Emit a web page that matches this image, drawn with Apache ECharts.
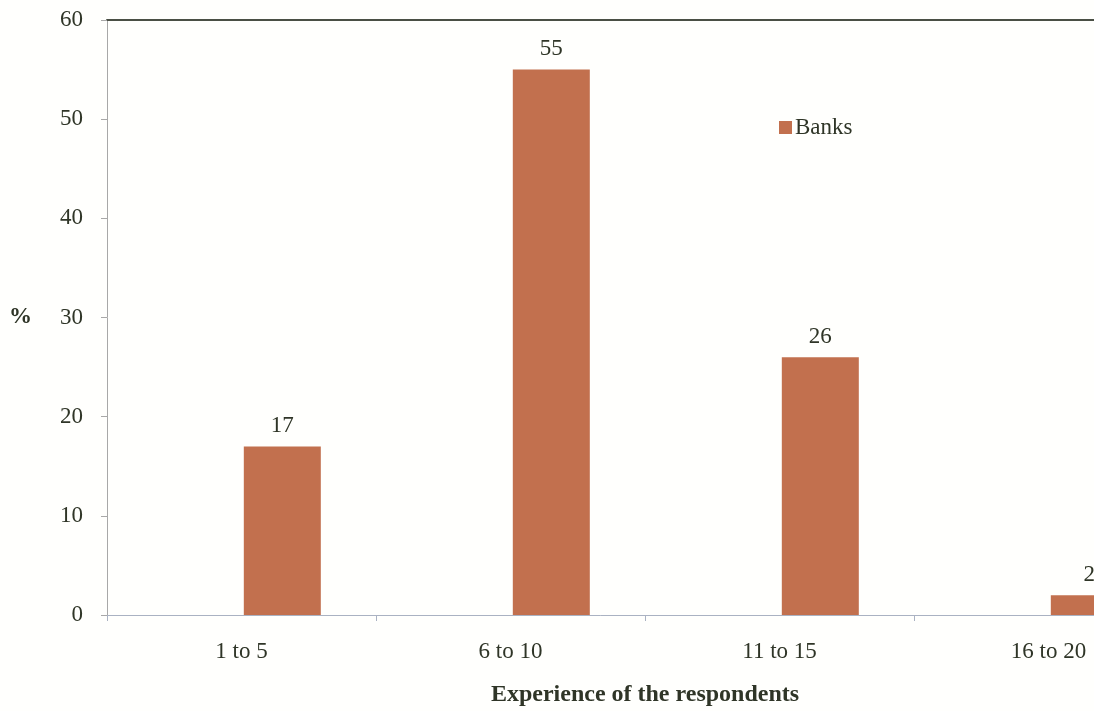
<!DOCTYPE html>
<html>
<head>
<meta charset="utf-8">
<script src="https://cdn.jsdelivr.net/npm/echarts@6/dist/echarts.min.js"></script>
<style>
  html, body { margin: 0; padding: 0; background: #fffffd; }
  #chart { width: 1094px; height: 711px; }
</style>
</head>
<body>
<div id="chart"></div>
<script>
var categories = ['1 to 5', '6 to 10', '11 to 15', '16 to 20'];
var banks = [17, 55, 26, 2];
// the original had an empty first series, which pushes the bars right of centre
var blank = ['-', '-', '-', '-'];
var yTicks = [0, 10, 20, 30, 40, 50, 60];

var textColor = '#2f3527';
var serif = '"Liberation Serif", "Times New Roman", serif';

var option = {
    backgroundColor: '#fffffd',
    animation: false,
    textStyle: { fontFamily: serif, color: textColor },
    grid: {
        left: 107,
        top: 20,
        bottom: 96,
        right: -89,
        outerBoundsMode: 'none',
        containLabel: false
    },
    legend: {
        data: ['Banks'],
        left: 779,
        top: 116,
        padding: 0,
        itemWidth: 13,
        itemHeight: 13,
        itemGap: 5,
        icon: 'rect',
        textStyle: { fontFamily: serif, fontSize: 23, color: textColor, padding: [0, 0, 0, -2] }
    },
    xAxis: [
        {
            type: 'category',
            data: categories,
            name: 'Experience of the respondents',
            nameLocation: 'middle',
            nameGap: 68,
            nameTextStyle: { fontFamily: serif, fontSize: 24, fontWeight: 'bold', color: textColor },
            axisLine: { lineStyle: { color: '#aab2c2', width: 1 } },
            axisTick: { show: true, length: 6, lineStyle: { color: '#aab2c2' } },
            axisLabel: { fontFamily: serif, fontSize: 23, color: textColor, margin: 25 },
            splitLine: { show: false }
        },
        {
            type: 'category',
            data: categories,
            position: 'top',
            axisLine: { lineStyle: { color: '#4a4f45', width: 2 } },
            axisTick: { show: false },
            axisLabel: { show: false }
        }
    ],
    yAxis: {
        type: 'value',
        min: yTicks[0],
        max: yTicks[yTicks.length - 1],
        interval: 10,
        name: '%',
        nameLocation: 'middle',
        nameRotate: 0,
        nameGap: 75,
        nameTextStyle: { fontFamily: serif, fontSize: 23, fontWeight: 'bold', color: textColor },
        axisLine: { show: true, lineStyle: { color: '#a8a8a8' } },
        axisTick: { show: true, length: 6, lineStyle: { color: '#a8a8a8' } },
        axisLabel: { fontFamily: serif, fontSize: 23, color: textColor, margin: 24, padding: [4, 0, 0, 0] },
        splitLine: { show: false }
    },
    series: [
        {
            name: 'blank',
            type: 'bar',
            data: blank,
            barWidth: 77,
            barGap: '6%'
        },
        {
            name: 'Banks',
            type: 'bar',
            data: banks,
            barWidth: 77,
            barGap: '6%',
            itemStyle: { color: '#c2704e' },
            label: {
                show: true,
                position: 'top',
                distance: 9,
                fontFamily: serif,
                fontSize: 23,
                color: textColor
            }
        }
    ]
};
echarts.init(document.getElementById('chart')).setOption(option);
</script>
</body>
</html>
